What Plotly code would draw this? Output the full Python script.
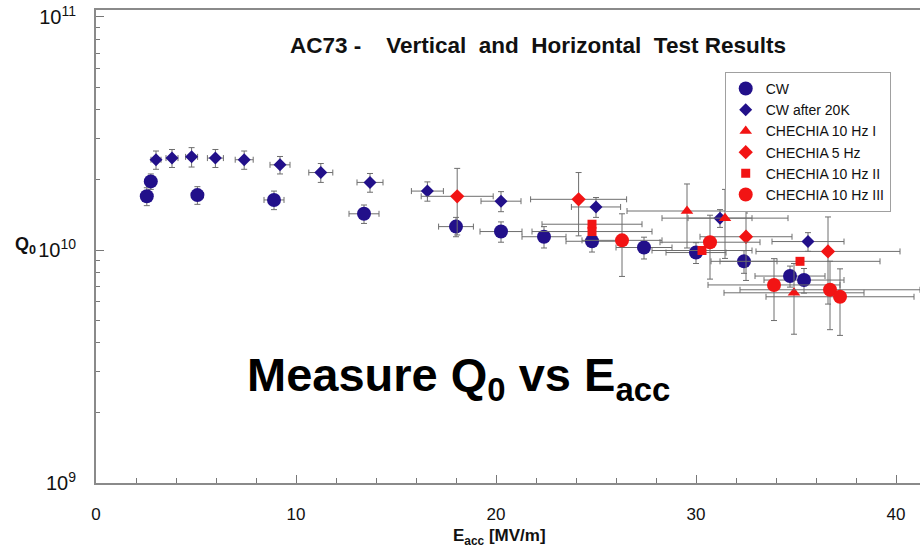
import plotly.graph_objects as go

# ---- data (Q0 values in units of 1e10) ----
cw_x    = [2.54, 2.74, 5.07, 8.9, 13.4, 18.0, 20.25, 22.4, 24.8, 27.4, 30.0, 32.4, 34.7, 35.4]
cw_q    = [1.70, 1.97, 1.72, 1.64, 1.43, 1.26, 1.20, 1.14, 1.09, 1.025, 0.975, 0.894, 0.773, 0.743]
cw_qerr = [0.15, 0.15, 0.15, 0.15, 0.13, 0.12, 0.12, 0.12, 0.11, 0.11, 0.10, 0.10, 0.08, 0.09]
cw_xerr = [0.25, 0.25, 0.3, 0.5, 0.75, 0.87, 1.05, 1.1, 1.3, 1.4, 1.5, 1.65, 1.75, 2.0]

k20_x    = [3.0, 3.8, 4.78, 5.97, 7.41, 9.2, 11.24, 13.7, 16.57, 20.25, 25.0, 31.2, 35.6]
k20_q    = [2.44, 2.48, 2.51, 2.48, 2.44, 2.32, 2.15, 1.95, 1.79, 1.62, 1.53, 1.37, 1.087]
k20_qerr = [0.22, 0.22, 0.24, 0.22, 0.22, 0.20, 0.20, 0.18, 0.17, 0.16, 0.15, 0.12, 0.10]
k20_xerr = [0.25, 0.3, 0.3, 0.4, 0.45, 0.5, 0.6, 0.65, 0.8, 1.0, 1.23, 1.6, 1.8]

h10a_x    = [29.55, 31.45, 34.9]
h10a_q    = [1.47, 1.37, 0.655]
h10a_qerr = [0.45, 0.45, 0.22]
h10a_xerr = [3.0, 3.15, 3.5]

h5_x    = [18.06, 24.13, 32.5, 36.6]
h5_q    = [1.70, 1.65, 1.14, 0.986]
h5_qerr = [0.54, 0.50, 0.40, 0.40]
h5_xerr = [1.8, 2.4, 2.3, 3.6]

h10b_x    = [24.8, 24.8, 30.3, 35.2]
h10b_q    = [1.29, 1.20, 0.995, 0.894]
h10b_qerr = [0.0, 0.0, 0.0, 0.0]
h10b_xerr = [2.5, 3.0, 2.5, 4.0]

h10c_x    = [26.3, 30.7, 33.9, 36.7, 37.2]
h10c_q    = [1.10, 1.08, 0.708, 0.675, 0.630]
h10c_qerr = [0.33, 0.33, 0.21, 0.22, 0.20]
h10c_xerr = [2.0, 2.5, 3.3, 4.5, 3.7]

x_ticks = [0, 10, 20, 30, 40]
y_tickvals = [1e9, 1e10, 1e11]
y_ticktext = ["10<sup>9</sup>", "10<sup>10</sup>", "10<sup>11</sup>"]

BLUE = "#22108a"
RED = "#f21414"
ERR = "#6e6e6e"
FONT = "Liberation Sans, Arial, sans-serif"

def scaled(v):
    return [a * 1e10 for a in v]

def add_series(name, xs, qs, qerr, xerr, symbol, size, color):
    fig.add_trace(go.Scatter(
        x=xs, y=scaled(qs), name=name, mode="markers",
        marker=dict(symbol=symbol, size=size, color=color, line=dict(width=0)),
        error_y=dict(type="data", array=scaled(qerr), visible=True,
                     color=ERR, thickness=1, width=3),
        error_x=dict(type="data", array=xerr, visible=True,
                     color=ERR, thickness=1, width=3),
    ))

fig = go.Figure()
add_series("CW", cw_x, cw_q, cw_qerr, cw_xerr, "circle", 14, BLUE)
add_series("CW after 20K", k20_x, k20_q, k20_qerr, k20_xerr, "diamond", 10, BLUE)
add_series("CHECHIA 10 Hz I", h10a_x, h10a_q, h10a_qerr, h10a_xerr, "triangle-up", 11, RED)
add_series("CHECHIA 5 Hz", h5_x, h5_q, h5_qerr, h5_xerr, "diamond", 11, RED)
add_series("CHECHIA 10 Hz II", h10b_x, h10b_q, h10b_qerr, h10b_xerr, "square", 9, RED)
add_series("CHECHIA 10 Hz III", h10c_x, h10c_q, h10c_qerr, h10c_xerr, "circle", 14, RED)

fig.update_layout(
    width=920, height=548,
    margin=dict(l=96, r=0, t=10, b=65, autoexpand=False),
    paper_bgcolor="white", plot_bgcolor="white",
    font=dict(family=FONT, color="#111"),
    showlegend=True,
    legend=dict(x=0.763, y=0.869, xanchor="left", yanchor="top",
                bgcolor="white", bordercolor="#a0a0a0", borderwidth=1,
                font=dict(size=14, family=FONT), tracegroupgap=0,
                itemwidth=30),
)

fig.update_xaxes(
    range=[0, 41.2], tickvals=x_ticks, showgrid=False, zeroline=False,
    automargin=False,
    showline=True, linecolor="#8a8a8a", linewidth=2, mirror=True,
    ticks="inside", ticklen=8, tickcolor="#777", tickwidth=1,
    minor=dict(dtick=2, ticks="inside", ticklen=5, tickcolor="#777", showgrid=False),
    tickfont=dict(size=17, family=FONT, color="#111"),
    ticklabelstandoff=15,
)
fig.update_yaxes(
    type="log", range=[9, 11.03], tickvals=y_tickvals, ticktext=y_ticktext,
    automargin=False,
    showgrid=False, zeroline=False,
    showline=True, linecolor="#8a8a8a", linewidth=2, mirror=False,
    ticks="inside", ticklen=8, tickcolor="#777", tickwidth=1,
    minor=dict(dtick="D1", ticks="inside", ticklen=4, tickcolor="#777", showgrid=False),
    tickfont=dict(size=20, family=FONT, color="#111"),
    ticklabelstandoff=14,
)

fig.add_annotation(
    text="<b>AC73 -\u00a0\u00a0\u00a0 Vertical\u00a0 and\u00a0 Horizontal\u00a0 Test Results</b>",
    xref="paper", yref="paper", x=0.536, y=0.926, xanchor="center", yanchor="middle",
    showarrow=False, font=dict(size=22.5, family=FONT, color="#111"))
fig.add_annotation(
    text="<b>Measure Q<sub>0</sub> vs E<sub>acc</sub></b>",
    xref="paper", yref="paper", x=0.44, y=0.222, xanchor="center", yanchor="middle",
    showarrow=False, font=dict(size=47, family=FONT, color="#000"))
fig.add_annotation(
    text="<b>Q<sub>0</sub></b>",
    xref="paper", yref="paper", x=-0.086, y=0.503, xanchor="center", yanchor="middle",
    showarrow=False, font=dict(size=18, family=FONT, color="#111"))
fig.add_annotation(
    text="<b>E<sub>acc</sub> [MV/m]</b>",
    xref="paper", yref="paper", x=0.49, y=-0.115, xanchor="center", yanchor="middle",
    showarrow=False, font=dict(size=17, family=FONT, color="#111"))

fig.write_html("out.html", config={"displayModeBar": False},
               post_script="document.body.style.margin='0';document.body.style.padding='0';")
